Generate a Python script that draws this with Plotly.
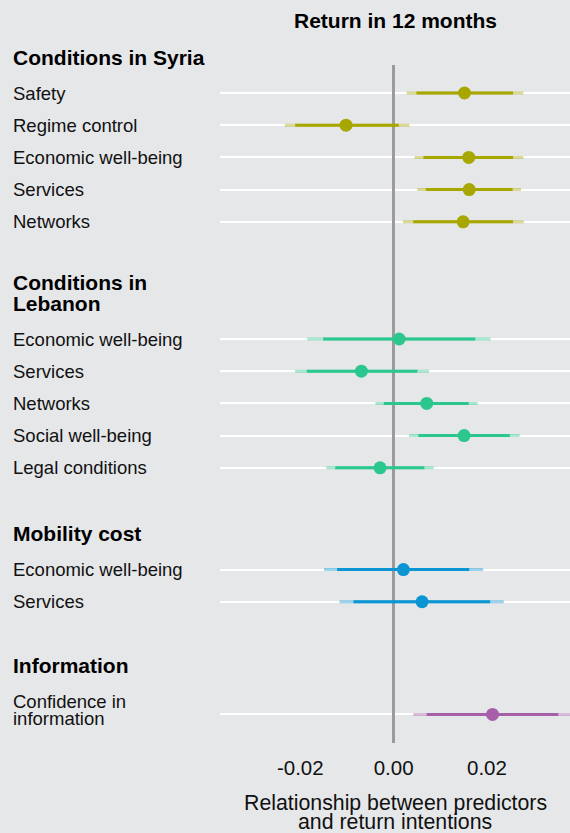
import plotly.graph_objects as go

# ---------------- data ----------------
group_names = ["Conditions in Syria", "Conditions in\nLebanon", "Mobility cost", "Information"]
group_colors = ["#A8A700", "#2CC78E", "#0B95D3", "#A660AA"]
group_light = ["rgba(168,167,0,0.42)", "rgba(44,199,142,0.42)", "rgba(11,149,211,0.42)", "rgba(166,96,170,0.42)"]

labels = [
    "Safety", "Regime control", "Economic well-being", "Services", "Networks",
    "Economic well-being", "Services", "Networks", "Social well-being", "Legal conditions",
    "Economic well-being", "Services",
    "Confidence in\ninformation",
]
group_idx = [0, 0, 0, 0, 0, 1, 1, 1, 1, 1, 2, 2, 3]

estimate = [0.0152, -0.0102, 0.0161, 0.0162, 0.0149,
            0.0012, -0.0069, 0.0071, 0.0151, -0.0029,
            0.0021, 0.0061,
            0.0212]
inner_lo = [0.0049, -0.0211, 0.0064, 0.0069, 0.0042,
            -0.0151, -0.0186, -0.0021, 0.0053, -0.0125,
            -0.0121, -0.0086,
            0.0071]
inner_hi = [0.0256, 0.0011, 0.0256, 0.0255, 0.0256,
            0.0175, 0.0051, 0.0161, 0.0249, 0.0066,
            0.0162, 0.0207,
            0.0353]
outer_lo = [0.0028, -0.0233, 0.0045, 0.0051, 0.0020,
            -0.0185, -0.0211, -0.0039, 0.0033, -0.0144,
            -0.0149, -0.0116,
            0.0042]
outer_hi = [0.0278, 0.0034, 0.0278, 0.0273, 0.0279,
            0.0208, 0.0076, 0.0180, 0.0270, 0.0086,
            0.0192, 0.0236,
            0.0395]

x_ticks = [-0.02, 0.0, 0.02]
x_tick_text = ["-0.02", "0.00", "0.02"]
title_text = "Return in 12 months"
x_title_lines = ["Relationship between predictors", "and return intentions"]

# ---------------- layout constants ----------------
W, H = 570, 833
ML, MR, MT, MB = 220, 0, 65, 90
BG = "#E6E7E9"
FONT = "Liberation Sans, Arial, Helvetica, sans-serif"
GROUP_GAP = [0, 3.64, 3.16, 3.5]   # slot gap before first row of each group
PX_PER_SLOT = 32.2
LABEL_LH = 17.4
HEAD_LH = 21
HEAD_ABOVE = 36

# row positions (in slot units)
pos = []
cur = 0.0
for i, g in enumerate(group_idx):
    if i > 0:
        cur += 1 if g == group_idx[i - 1] else GROUP_GAP[g]
    pos.append(cur)

plot_h = H - MT - MB
y_top = -(93 - MT) / PX_PER_SLOT
y_bot = y_top + plot_h / PX_PER_SLOT

fig = go.Figure()

for g in range(len(group_names)):
    idx = [i for i in range(len(labels)) if group_idx[i] == g]
    ox, oy, ix, iy = [], [], [], []
    for i in idx:
        ox += [outer_lo[i], outer_hi[i], None]
        oy += [pos[i], pos[i], None]
        ix += [inner_lo[i], inner_hi[i], None]
        iy += [pos[i], pos[i], None]
    fig.add_trace(go.Scatter(x=ox, y=oy, mode="lines",
                             line=dict(color=group_light[g], width=3),
                             hoverinfo="skip", showlegend=False))
    fig.add_trace(go.Scatter(x=ix, y=iy, mode="lines",
                             line=dict(color=group_colors[g], width=3),
                             hoverinfo="skip", showlegend=False))
    fig.add_trace(go.Scatter(x=[estimate[i] for i in idx], y=[pos[i] for i in idx],
                             mode="markers",
                             marker=dict(color=group_colors[g], size=13, line=dict(width=0)),
                             showlegend=False))

annotations = []
label_x = (12 - ML) / (W - ML - MR)
first_line_shift = {}
for i, lab in enumerate(labels):
    lines = lab.split("\n")
    n = len(lines)
    for k, ln in enumerate(lines):
        off = (k - (n - 1) / 2) * LABEL_LH - (n - 1) * 4.2
        if k == 0:
            first_line_shift[i] = off
        annotations.append(dict(x=label_x, xref="paper", y=pos[i], yref="y",
                                yshift=-off, text=ln, showarrow=False,
                                xanchor="left", yanchor="middle", borderpad=0,
                                font=dict(family=FONT, size=18.5, color="#111111")))

for g, name in enumerate(group_names):
    first = group_idx.index(g)
    top_line = first_line_shift[first]
    hl = name.split("\n")
    m = len(hl)
    for k, ln in enumerate(hl):
        off = top_line - HEAD_ABOVE - (m - 1 - k) * HEAD_LH
        annotations.append(dict(x=label_x, xref="paper", y=pos[first], yref="y",
                                yshift=-off, text="<b>" + ln + "</b>", showarrow=False,
                                xanchor="left", yanchor="middle", borderpad=0,
                                font=dict(family=FONT, size=21, color="#000000")))

annotations.append(dict(x=0.5, xref="paper", y=(H - MB - 20) / plot_h, yref="paper",
                        text="<b>" + title_text + "</b>", showarrow=False,
                        xanchor="center", yanchor="middle",
                        font=dict(family=FONT, size=21, color="#000000")))
for k, ln in enumerate(x_title_lines):
    annotations.append(dict(x=0.5, xref="paper", y=(H - MB - [803, 822][k]) / plot_h, yref="paper",
                            text=ln, showarrow=False, xanchor="center", yanchor="middle",
                            borderpad=0,
                            font=dict(family=FONT, size=21.3, color="#111111")))

fig.update_layout(
    width=W, height=H,
    margin=dict(l=ML, r=MR, t=MT, b=MB, pad=0),
    paper_bgcolor=BG, plot_bgcolor=BG,
    showlegend=False,
    annotations=annotations,
    xaxis=dict(range=[-0.0372, 0.0378], tickvals=x_ticks, ticktext=x_tick_text,
               showgrid=False, zeroline=True, zerolinecolor="#9B9B9B", zerolinewidth=2.6,
               showline=False, ticks="", ticklabelstandoff=10,
               tickfont=dict(family=FONT, size=20.5, color="#111111"), fixedrange=True),
    yaxis=dict(range=[y_bot, y_top], tickvals=pos, showticklabels=False,
               showgrid=True, gridcolor="#FFFFFF", gridwidth=2, zeroline=False,
               showline=False, ticks="", fixedrange=True),
)

fig.write_html("out.html", config={"displayModeBar": False},
               post_script="document.body.style.margin='0';document.body.style.background='%s';" % BG)
